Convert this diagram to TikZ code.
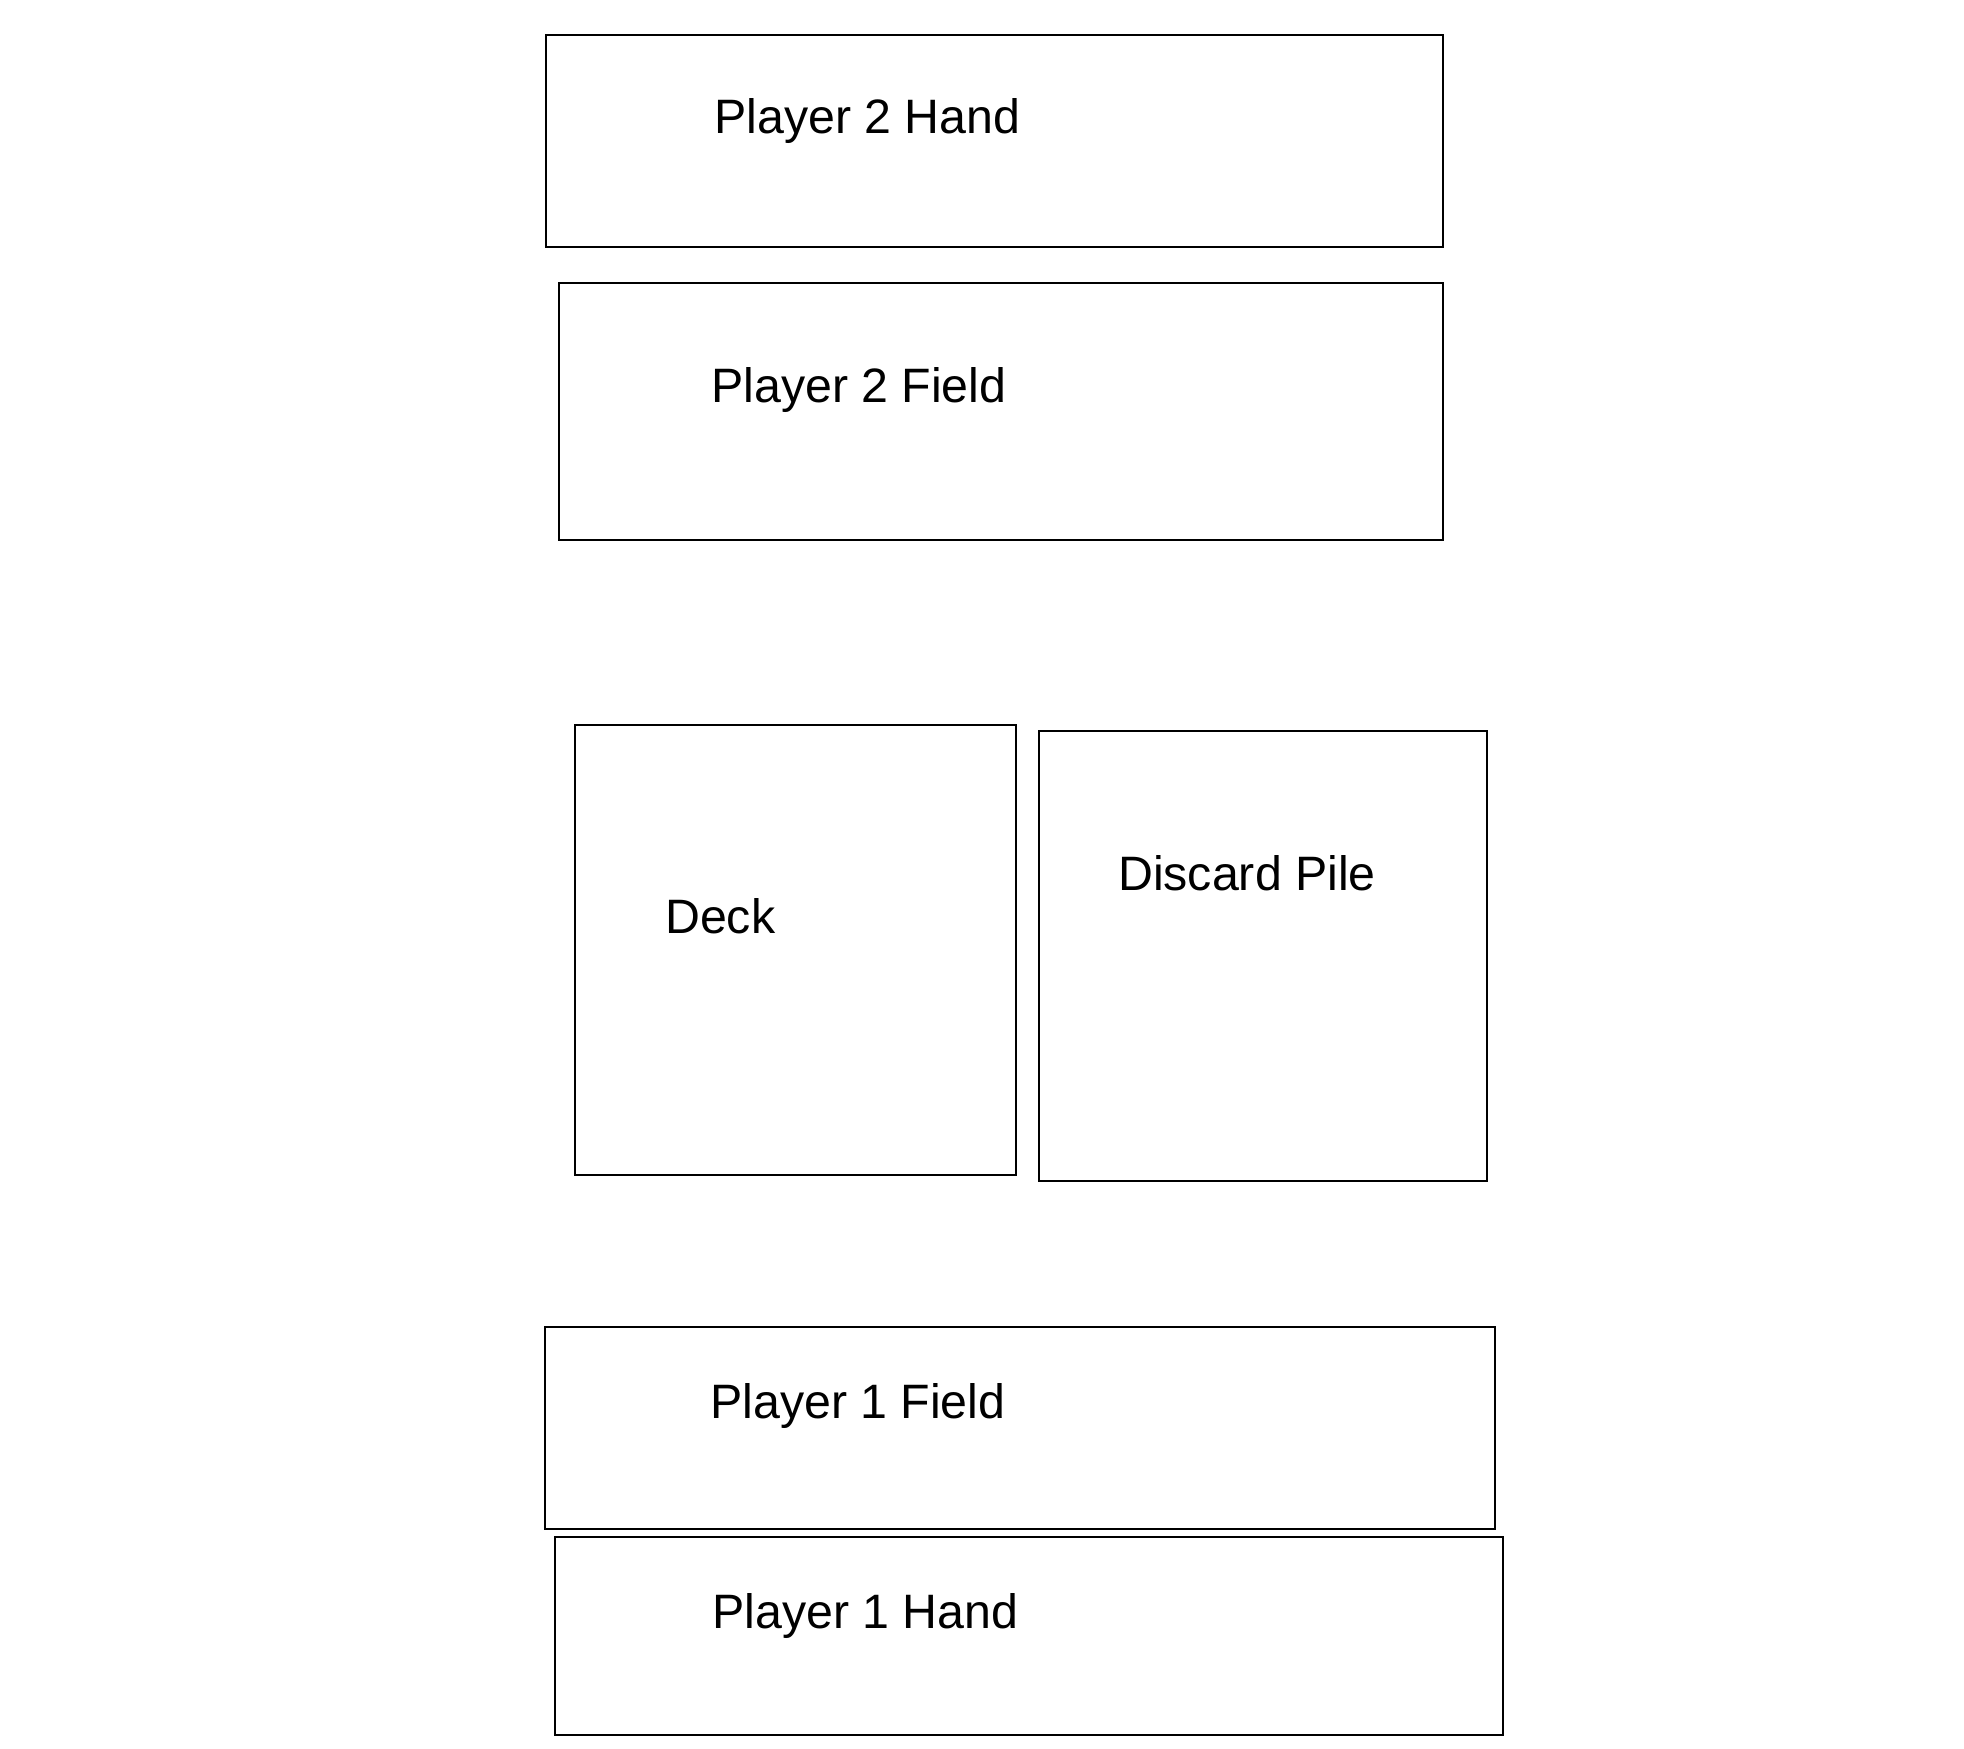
\documentclass[tikz,border=0pt]{standalone}
\usepackage{fontspec}
\setmainfont{Liberation Sans}
\begin{document}
\begin{tikzpicture}[x=1pt,y=-1pt,
  zone/.style={draw=black,line width=1.7pt,rectangle,inner sep=0pt,anchor=north west},
  lbl/.style={anchor=base west,inner sep=0pt,font=\fontsize{48.3}{58}\selectfont}]
\useasboundingbox (0,0) rectangle (1964,1748);
\node[zone,minimum width=897pt,minimum height=212pt] (p2hand) at (545,34) {};
\node[zone,minimum width=884pt,minimum height=257pt] (p2field) at (558,282) {};
\node[zone,minimum width=441pt,minimum height=450pt] (deck) at (574,724) {};
\node[zone,minimum width=448pt,minimum height=450pt] (discard) at (1038,730) {};
\node[zone,minimum width=950pt,minimum height=202pt] (p1field) at (544,1326) {};
\node[zone,minimum width=948pt,minimum height=198pt] (p1hand) at (554,1536) {};
\node[lbl] (p2handt) at (714,133) {Player 2 Hand};
\node[lbl] (p2fieldt) at (711,402) {Player 2 Field};
\node[lbl] (deckt) at (665,933) {Deck};
\node[lbl] (discardt) at (1118,890) {Discard Pile};
\node[lbl] (p1fieldt) at (710,1418) {Player 1 Field};
\node[lbl] (p1handt) at (712,1628) {Player 1 Hand};
\end{tikzpicture}
\end{document}
